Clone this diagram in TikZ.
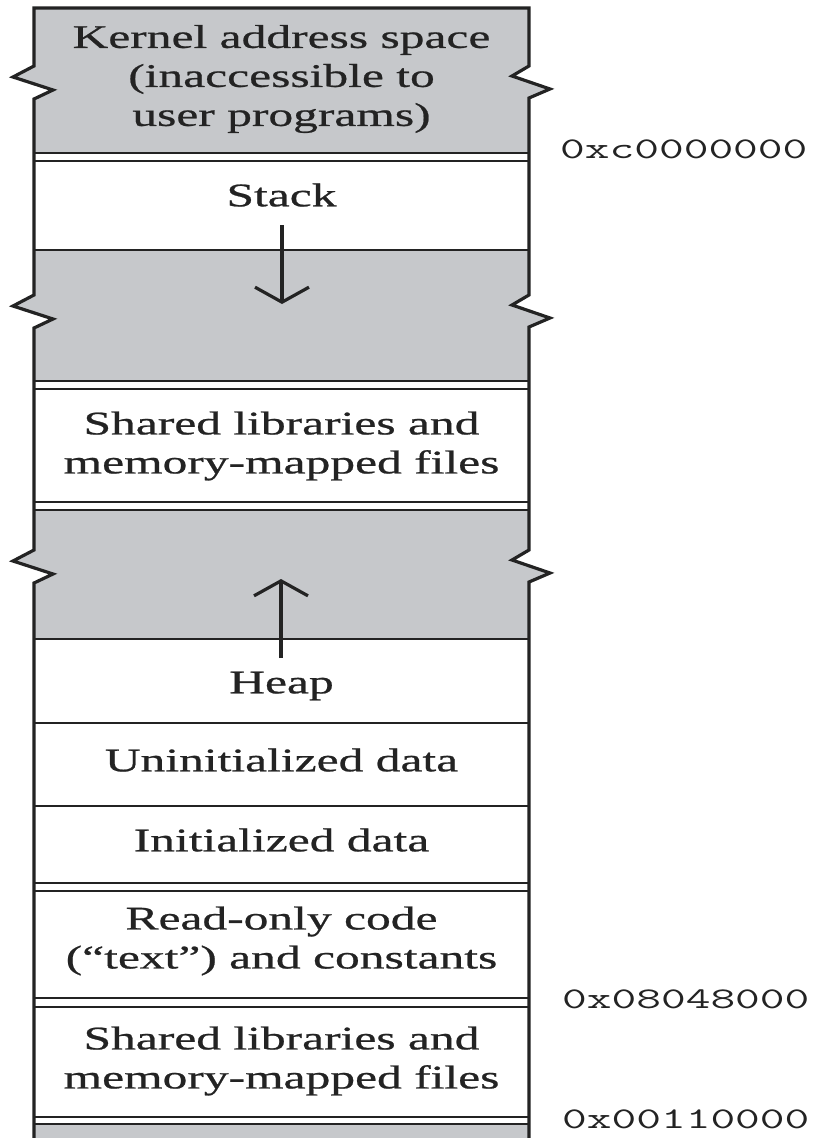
\documentclass[tikz,border=0pt]{standalone}
\usepackage{fontspec}
\setmainfont[FakeStretch=1.5,FakeBold=0.7]{Liberation Serif}
\usepackage{graphicx}
\usetikzlibrary{arrows.meta}
\definecolor{memgray}{RGB}{198,200,203}
\definecolor{ink}{RGB}{35,35,35}
\begin{document}
\begin{tikzpicture}[x=1pt,y=-1pt,
  lbl/.style={font=\fontsize{33}{39}\selectfont, align=center, inner sep=0pt, text=ink},
  addr/.style={anchor=base west, inner sep=0pt, text=ink, font=\fontsize{30}{30}\selectfont\ttfamily},
  edgeline/.style={draw=ink, line width=3.2pt, line join=miter},
  sepline/.style={draw=ink, line width=2.8pt},
  growarrow/.style={draw=ink, line width=3.2pt, -{Straight Barb[length=15pt,width=54pt,line width=3.2pt]}}]
\fill[white] (0,0) rectangle (815,1138);
\useasboundingbox (0,0) rectangle (815,1138);
% fills clipped to the outline
\begin{scope}
\clip (34,8) -- (34,66) -- (13,77) -- (53,90) -- (34,99) -- (34,295) -- (13,306) -- (53,319) -- (34,328)
  -- (34,550) -- (13,561) -- (53,574) -- (34,583) -- (34,1150) -- (529,1150)
  -- (529,582) -- (550,573) -- (512,560) -- (529,550) -- (529,327) -- (550,318) -- (512,305) -- (529,295)
  -- (529,98) -- (550,89) -- (512,76) -- (529,66) -- (529,8) -- cycle;
\fill[memgray] (0,8) rectangle (815,153);
\fill[memgray] (0,250) rectangle (815,381);
\fill[memgray] (0,510) rectangle (815,639);
\fill[memgray] (0,1124) rectangle (815,1150);
\end{scope}
% separators
\foreach \yy in {153,161,250,381,389,502,510,639,723,806,883,891,998,1007,1117,1124}
  \draw[sepline] (34,\yy) -- (529,\yy);
% outline
\draw[edgeline] (34,1150) -- (34,583) -- (53,574) -- (13,561) -- (34,550) -- (34,328) -- (53,319) -- (13,306) -- (34,295)
  -- (34,99) -- (53,90) -- (13,77) -- (34,66) -- (34,8) -- (529,8) -- (529,66) -- (512,76) -- (550,89) -- (529,98)
  -- (529,295) -- (512,305) -- (550,318) -- (529,327) -- (529,550) -- (512,560) -- (550,573) -- (529,582) -- (529,1150);
% labels
\node[lbl] (kernel) at (281.5,79) {Kernel address space\\(inaccessible to\\user programs)};
\node[lbl] (stack) at (281.5,195) {Stack};
\node[lbl] (shared1) at (281.5,446) {Shared libraries and\\memory-mapped files};
\node[lbl] (heap) at (281.5,686) {Heap};
\node[lbl] (uninit) at (281.5,760) {Uninitialized data};
\node[lbl] (init) at (281.5,840) {Initialized data};
\node[lbl] (rocode) at (281.5,941) {Read-only code\\(“text”) and constants};
\node[lbl] (shared2) at (281.5,1061) {Shared libraries and\\memory-mapped files};
% growth arrows
\coordinate (sa0) at (282,225);
\coordinate (sa1) at (282,304);
\draw[growarrow] (sa0) -- (sa1);
\coordinate (ha0) at (281,658);
\coordinate (ha1) at (281,579);
\draw[growarrow] (ha0) -- (ha1);
% addresses
\node[addr] (a1) at (560,158) {\scalebox{1.6}[1]{0xc0000000}};
\node[addr] (a2) at (562,1008) {\scalebox{1.6}[1]{0x08048000}};
\node[addr] (a3) at (562,1128) {\scalebox{1.6}[1]{0x00110000}};
\end{tikzpicture}
\end{document}
